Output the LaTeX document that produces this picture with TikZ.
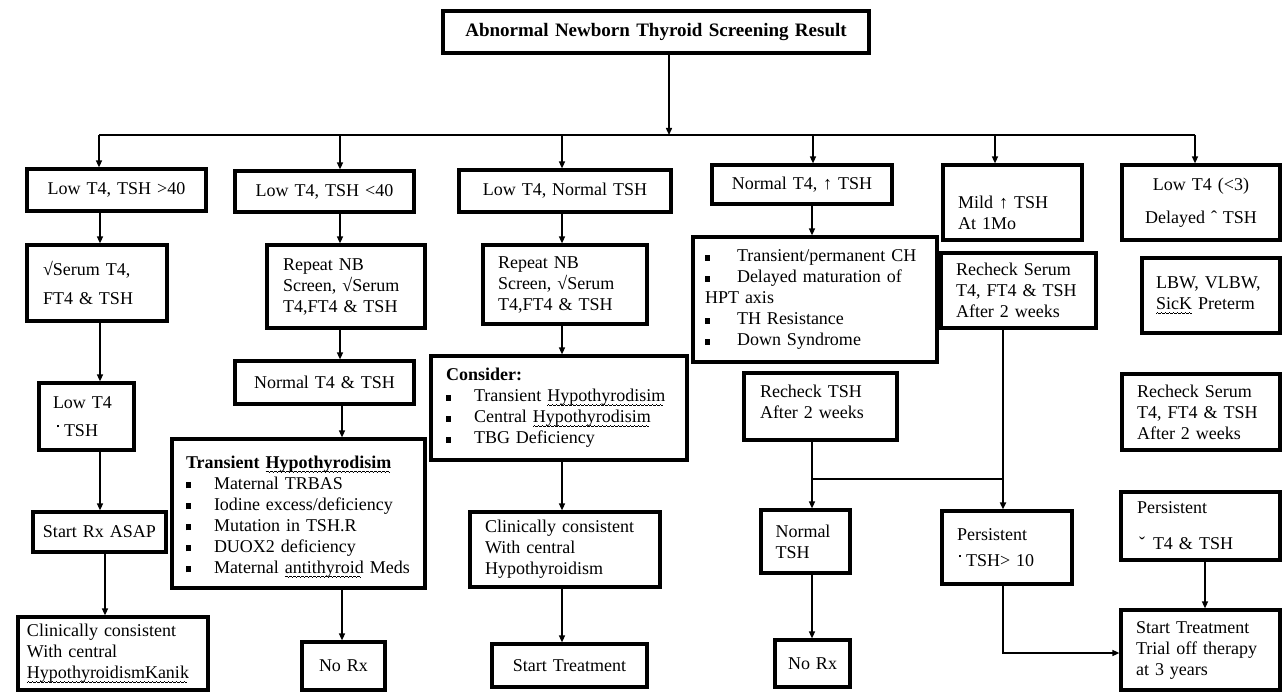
\documentclass[tikz,border=0pt]{standalone}
\usepackage{fontspec}
\setmainfont{Liberation Serif}
\usetikzlibrary{arrows.meta}
\newcommand{\mybul}[1]{\makebox[#1][l]{\rule[1pt]{5pt}{6pt}}}
\newcommand{\dotmk}{\raisebox{9pt}{\rule{2pt}{2pt}}}
\newsavebox{\wvbox}
\newcommand{\wv}[1]{\leavevmode\sbox{\wvbox}{#1}\rlap{\hbox to \wd\wvbox{\leaders\hbox{\rule[-3.6pt]{1pt}{0.6pt}\rule[-3pt]{1pt}{0.6pt}\rule[-3.6pt]{1pt}{0.6pt}\rule[-4.2pt]{1pt}{0.6pt}}\hfil}}\usebox{\wvbox}}
\begin{document}
\begin{tikzpicture}[x=1pt,y=-1pt,
  bx/.style={draw, line width=3.2pt, inner xsep=0pt, inner ysep=0pt, align=left,
    font=\fontsize{18}{21}\selectfont},
  bc/.style={bx, align=center},
  arr/.style={line width=1.4pt, -{Triangle[length=7pt,width=6pt]}},
  ln/.style={line width=1.4pt}]
\useasboundingbox (0,0) rectangle (1282,692);
% title
\node[bc, minimum width=426pt, minimum height=42pt, text width=410pt,
  font=\fontsize{19}{22}\selectfont\bfseries] (title) at (656,32) {Abnormal Newborn Thyroid Screening Result};
% row 1
\node[bc, minimum width=179pt, minimum height=42pt, text width=165pt] (B1) at (116.5,190) {Low T4, TSH >40};
\node[bc, minimum width=179pt, minimum height=41pt, text width=165pt] (B2) at (324.5,191.5) {Low T4, TSH <40};
\node[bc, minimum width=212pt, minimum height=42pt, text width=195pt] (B3) at (565,191) {Low T4, Normal TSH};
\node[bc, minimum width=180pt, minimum height=39pt, text width=165pt] (B4) at (802,184.5) {Normal T4, ↑ TSH};
\node[bx, minimum width=139pt, minimum height=75pt, text width=109pt] (B5) at (1012.5,202.5) {\rule{0pt}{33pt}Mild ↑ TSH\\At 1Mo};
\node[bc, minimum width=158pt, minimum height=75pt, text width=140pt] (B6) at (1201,202.5) {Low T4 (<3)\\[12pt]Delayed ˆ TSH};
% column 1
\node[bx, minimum width=140pt, minimum height=76pt, text width=108pt] (S1) at (97,283) {√Serum T4,\\[8pt]FT4 \& TSH};
\node[bx, minimum width=95pt, minimum height=67pt, text width=67pt] (L1) at (86.5,416.5) {Low T4\\[7pt]\hspace*{4pt}\dotmk\hspace{5pt}TSH};
\node[bc, minimum width=133pt, minimum height=40pt, text width=125pt] (R1) at (99.5,532) {Start Rx ASAP};
\node[bx, minimum width=190pt, minimum height=73pt, text width=172pt] (C1) at (113,653.5) {Clinically consistent\\With central\\\wv{HypothyroidismKanik}};
% column 2
\node[bx, minimum width=158pt, minimum height=83pt, text width=126pt] (S2) at (346,286.5) {Repeat NB\\Screen, √Serum\\T4,FT4 \& TSH};
\node[bc, minimum width=179pt, minimum height=43pt, text width=165pt] (N2) at (324.5,382.5) {Normal T4 \& TSH};
\node[bx, minimum width=253pt, minimum height=149pt, text width=225pt] (T2) at (298.5,513.5) {\rule{0pt}{19pt}\textbf{Transient \wv{Hypothyrodisim}}\\
  \mybul{28pt}Maternal TRBAS\\
  \mybul{28pt}Iodine excess/deficiency\\
  \mybul{28pt}Mutation in TSH.R\\
  \mybul{28pt}DUOX2 deficiency\\
  \mybul{28pt}Maternal \wv{antithyroid} Meds};
\node[bc, minimum width=83pt, minimum height=48pt, text width=75pt] (X2) at (343.5,666) {No Rx};
% column 3
\node[bx, minimum width=164pt, minimum height=79pt, text width=134pt] (S3) at (565,284.5) {Repeat NB\\Screen, √Serum\\T4,FT4 \& TSH};
\node[bx, minimum width=256pt, minimum height=104pt, text width=226pt] (K3) at (559,408) {\textbf{Consider:}\\
  \mybul{28pt}Transient \wv{Hypothyrodisim}\\
  \mybul{28pt}Central \wv{Hypothyrodisim}\\
  \mybul{28pt}TBG Deficiency};
\node[bx, minimum width=190pt, minimum height=75pt, text width=160pt] (C3) at (565,549.5) {Clinically consistent\\With central\\Hypothyroidism};
\node[bc, minimum width=155pt, minimum height=43pt, text width=145pt] (ST3) at (569.5,665.5) {Start Treatment};
% column 4
\node[bx, minimum width=244pt, minimum height=125pt, text width=220pt] (P4) at (815,299.5) {\mybul{32pt}Transient/permanent CH\\
  \mybul{32pt}Delayed maturation of\\HPT axis\\
  \mybul{32pt}TH Resistance\\
  \mybul{32pt}Down Syndrome};
\node[bx, minimum width=153pt, minimum height=67pt, text width=121pt] (RT4) at (820.5,406.5) {Recheck TSH\\After 2 weeks\rule[-10pt]{0pt}{10pt}};
\node[bx, minimum width=89pt, minimum height=63pt, text width=60pt] (N4) at (805.5,541.5) {Normal\\TSH};
\node[bc, minimum width=75pt, minimum height=47pt, text width=70pt] (X4) at (812.5,663.5) {No Rx};
% column 5
\node[bx, minimum width=155pt, minimum height=75pt, text width=125pt] (RS5) at (1018.5,290.5) {Recheck Serum\\T4, FT4 \& TSH\\After 2 weeks};
\node[bx, minimum width=130pt, minimum height=73pt, text width=100pt] (P5) at (1007,547.5) {Persistent\\[5pt]\hspace*{2pt}\dotmk\hspace{5pt}TSH> 10};
% column 6
\node[bx, minimum width=138pt, minimum height=75pt, text width=110pt] (LB6) at (1211,295.5) {LBW, VLBW,\\\wv{SicK} Preterm};
\node[bx, minimum width=158pt, minimum height=76pt, text width=128pt] (RS6) at (1201,412) {Recheck Serum\\T4, FT4 \& TSH\\After 2 weeks};
\node[bx, minimum width=159pt, minimum height=68pt, text width=127pt] (P6) at (1200.5,526) {Persistent\\[15pt]\hspace*{2pt}ˇ\hspace{8pt}T4 \& TSH};
\node[bx, minimum width=159pt, minimum height=80pt, text width=129pt] (ST6) at (1200.5,650) {Start Treatment\\Trial off therapy\\at 3 years};
% connectors
\coordinate (hub) at (669,135);
\coordinate (d1) at (99,135);
\coordinate (d2) at (340,135);
\coordinate (d3) at (562,135);
\coordinate (d4) at (813,135);
\coordinate (d5) at (995,135);
\coordinate (d6) at (1195,135);
\draw[arr] (title.south -| hub) -- (hub);
\draw[ln] (d1) -- (d6);
\draw[arr] (d1) -- (d1 |- B1.north);
\draw[arr] (d2) -- (d2 |- B2.north);
\draw[arr] (d3) -- (d3 |- B3.north);
\draw[arr] (d4) -- (d4 |- B4.north);
\draw[arr] (d5) -- (d5 |- B5.north);
\draw[arr] (d6) -- (d6 |- B6.north);
\coordinate (x1) at (100,0);
\coordinate (x1b) at (105,0);
\coordinate (x2) at (340,0);
\coordinate (x2b) at (342,0);
\coordinate (x3) at (562,0);
\coordinate (x4) at (812,0);
\coordinate (x5) at (1003,0);
\coordinate (x6) at (1205,0);
\draw[arr] (B1.south -| x1) -- (S1.north -| x1);
\draw[arr] (S1.south -| x1) -- (L1.north -| x1);
\draw[arr] (L1.south -| x1) -- (R1.north -| x1);
\draw[arr] (R1.south -| x1b) -- (C1.north -| x1b);
\draw[arr] (B2.south -| x2) -- (S2.north -| x2);
\draw[arr] (S2.south -| x2) -- (N2.north -| x2);
\draw[arr] (N2.south -| x2b) -- (T2.north -| x2b);
\draw[arr] (T2.south -| x2b) -- (X2.north -| x2b);
\draw[arr] (B3.south -| x3) -- (S3.north -| x3);
\draw[arr] (S3.south -| x3) -- (K3.north -| x3);
\draw[arr] (K3.south -| x3) -- (C3.north -| x3);
\draw[arr] (C3.south -| x3) -- (ST3.north -| x3);
\draw[arr] (B4.south -| x4) -- (P4.north -| x4);
\draw[arr] (RT4.south -| x4) -- (N4.north -| x4);
\draw[arr] (N4.south -| x4) -- (X4.north -| x4);
\coordinate (j4) at (812,479);
\coordinate (j5) at (1003,479);
\draw[ln] (j4) -- (j5);
\draw[arr, line width=1.8pt] (RS5.south -| x5) -- (P5.north -| x5);
\coordinate (k5) at (1003,653);
\draw[arr] (P5.south -| x5) -- (k5) -- (k5 -| ST6.west);
\draw[arr] (P6.south -| x6) -- (ST6.north -| x6);
\end{tikzpicture}
\end{document}
